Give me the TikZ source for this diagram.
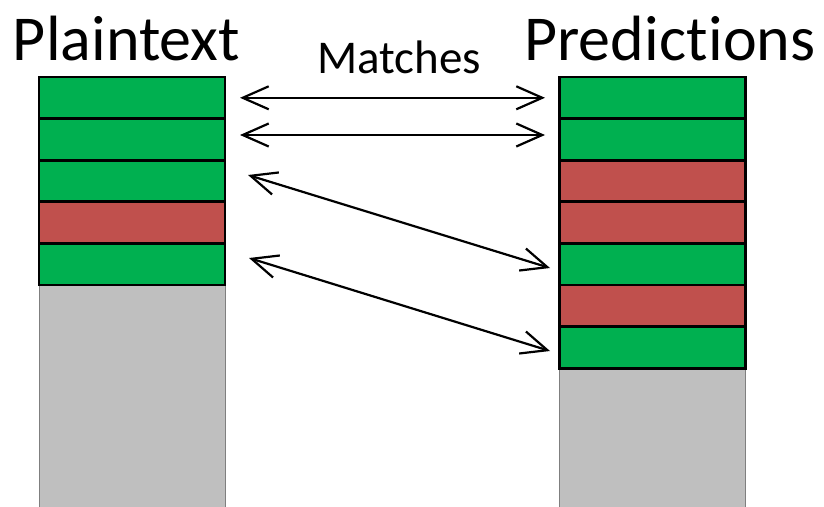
\documentclass[tikz,border=0pt]{standalone}
\usepackage{fontspec}
\setmainfont{Carlito}[RawFeature={-liga;-clig;-dlig;-calt;-rlig}]
\usetikzlibrary{arrows.meta}
\definecolor{cellgreen}{HTML}{00B050}
\definecolor{cellred}{HTML}{C0504D}
\definecolor{cellgray}{HTML}{BFBFBF}
\definecolor{edgegray}{HTML}{7F7F7F}
\begin{document}
\begin{tikzpicture}[x=1pt,y=-1pt,
  cell/.style={rectangle, draw=black, line width=2.7pt, minimum width=186pt,
    minimum height=41.6pt, inner sep=0pt, outer sep=0pt},
  ok/.style={cell, fill=cellgreen},
  bad/.style={cell, fill=cellred},
  rest/.style={rectangle, draw=edgegray, fill=cellgray, line width=1pt,
    minimum width=186pt, inner sep=0pt, outer sep=0pt},
  title/.style={font=\fontsize{64}{64}\selectfont, inner sep=0pt, anchor=base},
  subtitle/.style={font=\fontsize{47}{47}\selectfont, inner sep=0pt, anchor=base},
  match/.style={draw=black, line width=2.2pt,
    {Straight Barb[length=26pt,width=23pt]}-{Straight Barb[length=26pt,width=23pt]}}
]
\clip (0,0) rectangle (824,506);
\fill[white] (0,0) rectangle (824,506);

% headings
\node[title] (tplain) at (126.5,60) {Plaintext};
\node[title] (tpred) at (670,60) {Predict\kern1pt ions};
\node[subtitle] (tmatch) at (399,73) {Matches};

% unused remainder of each column
\node[rest, minimum height=225pt] (prest) at (132,397.5) {};
\node[rest, minimum height=142pt] (qrest) at (652.5,439) {};

% plaintext column
\node[ok]  (p1) at (132,97.8) {};
\node[ok]  (p2) at (132,139.4) {};
\node[ok]  (p3) at (132,181.0) {};
\node[bad] (p4) at (132,222.6) {};
\node[ok]  (p5) at (132,264.2) {};

% prediction column
\node[ok]  (q1) at (652.5,97.8) {};
\node[ok]  (q2) at (652.5,139.4) {};
\node[bad] (q3) at (652.5,181.0) {};
\node[bad] (q4) at (652.5,222.6) {};
\node[ok]  (q5) at (652.5,264.2) {};
\node[bad] (q6) at (652.5,305.8) {};
\node[ok]  (q7) at (652.5,347.4) {};

% matching pairs
\draw[match] ([xshift=15pt]p1.east) -- ([xshift=-14.5pt]q1.west);
\draw[match] ([xshift=15pt,yshift=4.4pt]p2.east) -- ([xshift=-14.5pt,yshift=4.4pt]q2.west);
\draw[match] ([xshift=23pt,yshift=6pt]p3.east) -- ([xshift=-9.5pt,yshift=-3.8pt]q5.west);
\draw[match] ([xshift=24pt,yshift=6.2pt]p5.east) -- ([xshift=-9.5pt,yshift=-3.6pt]q7.west);
\end{tikzpicture}
\end{document}
